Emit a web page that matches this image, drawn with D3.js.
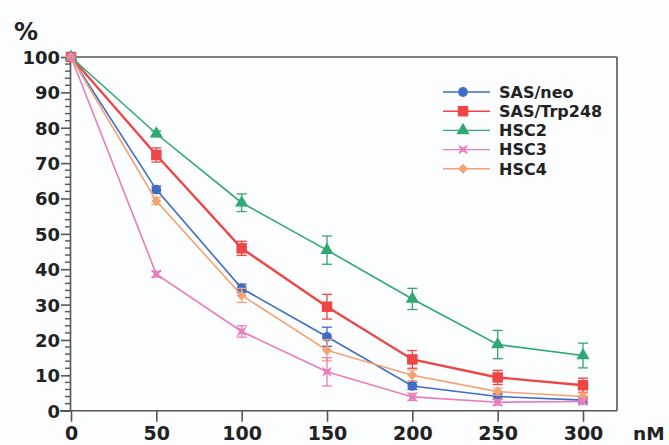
<!DOCTYPE html>
<html><head><meta charset="utf-8">
<script src="https://cdn.jsdelivr.net/npm/d3@7"></script>
<style>
html,body{margin:0;padding:0;background:#fcfdfe;}
svg{display:block;font-family:"DejaVu Sans",Arial,sans-serif;}
</style></head>
<body><svg id="c" width="669" height="445"></svg>
<script>
const doses = [0, 50, 100, 150, 200, 250, 300];
const seriesNames = ["SAS/neo", "SAS/Trp248", "HSC2", "HSC3", "HSC4"];
const sasNeo     = [100, 62.5, 34.6, 20.9, 7.0, 4.0, 3.0];
const sasNeoErr  = [0, 1, 1.2, 2.7, 1, 0.8, 0.8];
const sasTrp     = [100, 72.3, 45.9, 29.4, 14.5, 9.4, 7.2];
const sasTrpErr  = [0, 2, 2, 3.5, 2.5, 2, 2];
const hsc2       = [100, 78.3, 58.8, 45.4, 31.6, 18.7, 15.6];
const hsc2Err    = [0, 0.8, 2.5, 4, 3, 4, 3.5];
const hsc3       = [100, 38.6, 22.4, 11.0, 3.9, 2.4, 2.6];
const hsc3Err    = [0, 0.8, 1.6, 4, 1, 0.8, 0.8];
const hsc4       = [100, 59.3, 32.6, 17.1, 10.0, 5.4, 4.0];
const hsc4Err    = [0, 1, 2, 3, 1.5, 1, 1];
const yTicks = [0, 10, 20, 30, 40, 50, 60, 70, 80, 90, 100];
const xTicks = [0, 50, 100, 150, 200, 250, 300];

const series = [
  {name: seriesNames[0], v: sasNeo, e: sasNeoErr, color: "#3f6dc6", sym: "circle", lw: 1.6},
  {name: seriesNames[1], v: sasTrp, e: sasTrpErr, color: "#ee4646", sym: "square", lw: 2.4},
  {name: seriesNames[2], v: hsc2,   e: hsc2Err,   color: "#31a874", sym: "triangle", lw: 1.6},
  {name: seriesNames[4], v: hsc4,   e: hsc4Err,   color: "#f4a274", sym: "diamond", lw: 1.6},
  {name: seriesNames[3], v: hsc3,   e: hsc3Err,   color: "#ea7cbc", sym: "xmark", lw: 1.6}
];

const svg = d3.select("#c");
const x = d3.scaleLinear().domain([0, 300]).range([71, 583]);
const y = d3.scaleLinear().domain([0, 100]).range([410.7, 57]);
const axisColor = "#555";

// frame top and right
svg.append("line").attr("x1", 70).attr("x2", 617).attr("y1", 57).attr("y2", 57).attr("stroke", axisColor).attr("stroke-width", 1.6);
svg.append("line").attr("x1", 617).attr("x2", 617).attr("y1", 57).attr("y2", 410.7).attr("stroke", axisColor).attr("stroke-width", 1.6);

// y axis
const yAxis = d3.axisLeft(y).tickValues(yTicks).tickSize(9).tickPadding(1).tickSizeOuter(0);
const gy = svg.append("g").attr("transform", "translate(70,0)").call(yAxis);
gy.select(".domain").attr("stroke", axisColor).attr("stroke-width", 1.6);
gy.selectAll(".tick line").attr("stroke", axisColor).attr("stroke-width", 1.6);
gy.selectAll(".tick text").attr("font-family", "DejaVu Sans").attr("font-size", 18).attr("font-weight", "bold").attr("fill", "#222").attr("dy", "0.36em");
const minor = d3.range(0, 101, 2).filter(d => d % 10 !== 0);
svg.append("g").selectAll("line").data(minor).join("line")
  .attr("x1", 65).attr("x2", 70).attr("y1", d => y(d)).attr("y2", d => y(d))
  .attr("stroke", axisColor).attr("stroke-width", 1.4);

// x axis
const xAxis = d3.axisBottom(x).tickValues(xTicks).tickSize(11).tickPadding(5).tickSizeOuter(0);
const gx = svg.append("g").attr("transform", "translate(0,410.7)").call(xAxis);
gx.select(".domain").remove();
gx.append("line").attr("x1", 60).attr("x2", 617).attr("y1", 0).attr("y2", 0).attr("stroke", axisColor).attr("stroke-width", 1.6);
gx.selectAll(".tick line").attr("stroke", axisColor).attr("stroke-width", 1.6);
gx.selectAll(".tick text").attr("font-family", "DejaVu Sans").attr("font-size", 19).attr("font-weight", "bold").attr("fill", "#222");

svg.append("text").attr("x", 14).attr("y", 40).attr("font-size", 24).attr("font-weight", "bold").attr("fill", "#222").text("%");
svg.append("text").attr("x", 633).attr("y", 440).attr("font-size", 18.5).attr("font-weight", "bold").attr("fill", "#222").text("nM");

function symPath(sym) {
  if (sym === "circle") return d3.symbol(d3.symbolCircle, 75)();
  if (sym === "square") return d3.symbol(d3.symbolSquare, 110)();
  if (sym === "triangle") return d3.symbol(d3.symbolTriangle, 75)();
  if (sym === "diamond") return "M0,-5L5,0L0,5L-5,0Z";
  return "M-5,-5L0,-2L5,-5L2.5,0L5,5L0,2L-5,5L-2.5,0Z";
}

const line = d3.line().x((d, i) => x(doses[i])).y(d => y(d));
series.forEach(s => {
  const g = svg.append("g");
  g.append("path").attr("d", line(s.v)).attr("fill", "none").attr("stroke", s.color).attr("stroke-width", s.lw);
  const eb = g.selectAll(".eb").data(s.v.map((v, i) => ({v, e: s.e[i], d: doses[i]})).filter(p => p.e > 0)).join("g");
  eb.append("line").attr("x1", p => x(p.d)).attr("x2", p => x(p.d)).attr("y1", p => y(p.v - p.e)).attr("y2", p => y(p.v + p.e)).attr("stroke", s.color).attr("stroke-width", 1.3);
  eb.append("line").attr("x1", p => x(p.d) - 5).attr("x2", p => x(p.d) + 5).attr("y1", p => y(p.v - p.e)).attr("y2", p => y(p.v - p.e)).attr("stroke", s.color).attr("stroke-width", 1.3);
  eb.append("line").attr("x1", p => x(p.d) - 5).attr("x2", p => x(p.d) + 5).attr("y1", p => y(p.v + p.e)).attr("y2", p => y(p.v + p.e)).attr("stroke", s.color).attr("stroke-width", 1.3);
  g.selectAll(".m").data(s.v).join("path")
    .attr("d", symPath(s.sym))
    .attr("transform", (d, i) => `translate(${x(doses[i])},${y(d)})`)
    .attr("fill", s.color);
});

// legend
const lg = svg.append("g");
seriesNames.forEach((nm, k) => {
  const s = series.find(t => t.name === nm);
  const ly = 92 + k * 19.2;
  lg.append("line").attr("x1", 443).attr("x2", 490).attr("y1", ly).attr("y2", ly).attr("stroke", s.color).attr("stroke-width", 1.4);
  lg.append("path").attr("d", symPath(s.sym)).attr("transform", `translate(463,${ly})`).attr("fill", s.color);
  lg.append("text").attr("x", 499).attr("y", ly).attr("dy", "0.36em").attr("font-size", 16).attr("font-weight", "bold").attr("fill", "#222").text(nm);
});
</script></body></html>
